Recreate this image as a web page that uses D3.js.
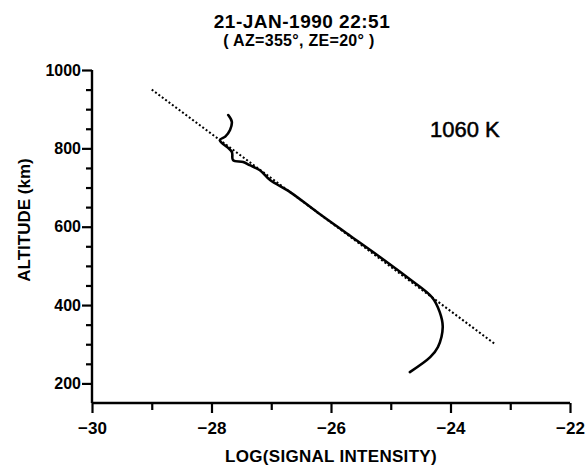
<!DOCTYPE html>
<html>
<head>
<meta charset="utf-8">
<script src="https://cdn.jsdelivr.net/npm/d3@7"></script>
<style>
  html, body { margin: 0; padding: 0; background: #fff; }
  svg { display: block; }
  text { font-family: "Liberation Sans", Arial, sans-serif; fill: #000; }
</style>
</head>
<body>
<svg id="chart" width="587" height="466"></svg>
<script>
// ---- Data ----
const titleText = "21-JAN-1990 22:51";
const subtitleText = "( AZ=355\u00B0, ZE=20\u00B0 )";
const annotationText = "1060 K";
const xLabel = "LOG(SIGNAL INTENSITY)";
const yLabel = "ALTITUDE (km)";

const xMajorTicks = [-30, -28, -26, -24, -22];
const xMinorTicks = [-29, -27, -25, -23];
const yMajorTicks = [200, 400, 600, 800, 1000];
const yMinorTicks = [250, 300, 350, 450, 500, 550, 650, 700, 750, 850, 900, 950];

// measured profile: log intensity vs altitude
const measuredLogI = [-27.72, -27.66, -27.69, -27.77, -27.86, -27.66, -27.64, -27.47, -27.36, -27.19, -27.02, -26.69, -26.23, -25.68, -25.21, -24.68, -24.31, -24.18, -24.13, -24.21, -24.34, -24.68];
const measuredAlt  = [885, 868, 847, 830, 821, 791, 770, 765, 757, 744, 719, 689, 637, 577, 526, 466, 420, 382, 344, 293, 267, 229];

// fitted exponential (straight line in log space)
const fitLogI = [-29.0, -23.25];
const fitAlt  = [950, 300];

// ---- Layout ----
const svg = d3.select("#chart");
const x = d3.scaleLinear().domain([-30, -22]).range([92, 570]);
const y = d3.scaleLinear().domain([150, 1000]).range([403, 70]);

const g = svg.append("g");

// X axis
const xAxisY = y(150);
const xAxisMajor = d3.axisBottom(x).tickValues(xMajorTicks).tickSize(10).tickPadding(9)
  .tickFormat(d3.format("d"));
const xg = g.append("g").attr("transform", `translate(0,${xAxisY})`).call(xAxisMajor);
const xAxisMinor = d3.axisBottom(x).tickValues(xMinorTicks).tickSize(7).tickFormat("");
const xg2 = g.append("g").attr("transform", `translate(0,${xAxisY})`).call(xAxisMinor);

// Y axis
const yAxisX = x(-30);
const yAxisMajor = d3.axisLeft(y).tickValues(yMajorTicks).tickSize(10).tickPadding(1)
  .tickFormat(d3.format("d"));
const yg = g.append("g").attr("transform", `translate(${yAxisX},0)`).call(yAxisMajor);
const yAxisMinor = d3.axisLeft(y).tickValues(yMinorTicks).tickSize(6).tickFormat("");
const yg2 = g.append("g").attr("transform", `translate(${yAxisX},0)`).call(yAxisMinor);

[xg, xg2, yg, yg2].forEach(a => {
  a.select(".domain").remove();
  a.selectAll(".tick line").attr("stroke", "#000").attr("stroke-width", 2.2);
  a.selectAll(".tick text").attr("font-weight", "bold")
    .attr("font-family", "'Liberation Sans', Arial, sans-serif").attr("fill", "#000");
});
xg.selectAll(".tick text").attr("font-size", 17);
yg.selectAll(".tick text").attr("font-size", 16);

// axis lines
g.append("line").attr("x1", x(-30)).attr("x2", x(-22)).attr("y1", xAxisY).attr("y2", xAxisY)
  .attr("stroke", "#000").attr("stroke-width", 2.4);
g.append("line").attr("x1", yAxisX).attr("x2", yAxisX).attr("y1", y(1000)).attr("y2", xAxisY)
  .attr("stroke", "#000").attr("stroke-width", 2.4);

// Fit line (dotted)
const fitData = fitLogI.map((v, i) => [v, fitAlt[i]]);
g.append("path")
  .attr("d", d3.line().x(d => x(d[0])).y(d => y(d[1]))(fitData))
  .attr("fill", "none").attr("stroke", "#000").attr("stroke-width", 2)
  .attr("stroke-dasharray", "2,2.2");

// Measured curve
const measData = measuredLogI.map((v, i) => [v, measuredAlt[i]]);
g.append("path")
  .attr("d", d3.line().curve(d3.curveCatmullRom.alpha(0.5)).x(d => x(d[0])).y(d => y(d[1]))(measData))
  .attr("fill", "none").attr("stroke", "#000").attr("stroke-width", 2.6)
  .attr("stroke-linejoin", "round").attr("stroke-linecap", "round");

// Titles
svg.append("text").attr("x", 302).attr("y", 28).attr("text-anchor", "middle")
  .attr("font-size", 19).attr("font-weight", "bold").attr("letter-spacing", 0.5).text(titleText);
svg.append("text").attr("x", 299).attr("y", 46).attr("text-anchor", "middle")
  .attr("font-size", 16).attr("font-weight", "bold").attr("letter-spacing", 0.3).text(subtitleText);

// Annotation
svg.append("text").attr("x", 430).attr("y", 137)
  .attr("font-size", 22).attr("stroke", "#000").attr("stroke-width", 0.5).text(annotationText);

// Axis titles
svg.append("text").attr("x", (x(-30) + x(-22)) / 2).attr("y", 462).attr("text-anchor", "middle")
  .attr("font-size", 17).attr("font-weight", "bold").attr("letter-spacing", 0.3).text(xLabel);
svg.append("text").attr("transform", `translate(30,220) rotate(-90)`).attr("text-anchor", "middle")
  .attr("font-size", 17).attr("font-weight", "bold").text(yLabel);
</script>
</body>
</html>
